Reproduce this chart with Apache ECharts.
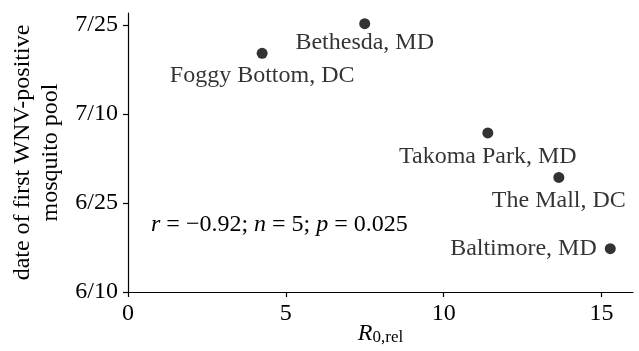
<!DOCTYPE html>
<html><head><meta charset="utf-8">
<script src="https://cdn.jsdelivr.net/npm/echarts@6/dist/echarts.min.js"></script>
<style>html,body{margin:0;padding:0;background:#fff}#c{width:639px;height:351px}</style>
</head><body><div id="c"></div>
<script>
// Data
const sites = ["Foggy Bottom, DC", "Bethesda, MD", "Takoma Park, MD", "The Mall, DC", "Baltimore, MD"];
const r0rel = [4.25, 7.5, 11.4, 13.65, 15.28];
// days after June 10
const firstPositiveDay = [40.2, 45.2, 26.8, 19.3, 7.3];
const yTickValues = [0, 15, 30, 45];
const yTickLabels = ["6/10", "6/25", "7/10", "7/25"];
const xTickValues = [0, 5, 10, 15];
const labelPos = ["bottom", "bottom", "bottom", "bottom", "left"];
const labelDist = [5, 2, 6, 6, 8];

const FONT = "Liberation Serif";
const chart = echarts.init(document.getElementById('c'), null, {renderer: 'canvas'});
const data = sites.map((s, i) => ({
  value: [r0rel[i], firstPositiveDay[i]],
  name: s,
  label: {show: true, position: labelPos[i], distance: labelDist[i], formatter: s}
}));
chart.setOption({
  animation: false,
  grid: {left: 128, right: 6, top: 13, bottom: 59, containLabel: false, outerBoundsMode: 'none'},
  xAxis: {
    type: 'value', min: 0, max: 16, interval: 5,
    axisLine: {show: true, onZero: false, lineStyle: {color: '#000', width: 1.2}},
    axisTick: {show: true, length: 5, lineStyle: {color: '#000', width: 1.2}, customValues: xTickValues},
    axisLabel: {color: '#000', fontFamily: FONT, fontSize: 24, margin: 10, customValues: xTickValues},
    splitLine: {show: false},
    name: '{r|R}{s|0,rel}',
    nameLocation: 'middle',
    nameGap: 30,
    nameMoveOverlap: false,
    nameTextStyle: {
      fontFamily: FONT, color: '#000',
      rich: {
        r: {fontFamily: FONT, fontSize: 24, fontStyle: 'italic', color: '#000', verticalAlign: 'top', lineHeight: 24},
        s: {fontFamily: FONT, fontSize: 17, color: '#000', verticalAlign: 'bottom', lineHeight: 17, padding: [12, 0, 0, 0]}
      }
    }
  },
  yAxis: {
    type: 'value', min: 0, max: 47, interval: 15,
    axisLine: {show: true, onZero: false, lineStyle: {color: '#000', width: 1.2}},
    axisTick: {show: true, length: 5, lineStyle: {color: '#000', width: 1.2}, customValues: yTickValues},
    axisLabel: {
      color: '#000', fontFamily: FONT, fontSize: 24, margin: 10, customValues: yTickValues,
      formatter: v => { const k = yTickValues.indexOf(v); return k >= 0 ? yTickLabels[k] : ''; }
    },
    splitLine: {show: false},
    name: 'date of first WNV-positive\nmosquito pool',
    nameLocation: 'middle',
    nameRotate: 90,
    nameGap: 62,
    nameTextStyle: {fontFamily: FONT, fontSize: 24, color: '#000', lineHeight: 28, align: 'center'}
  },
  graphic: [{
    type: 'text', left: 151, top: 213,
    style: {
      text: '{i|r} = \u22120.92; {i|n} = 5; {i|p} = 0.025',
      font: '24px "Liberation Serif"', fill: '#000',
      rich: {i: {fontFamily: FONT, fontSize: 24, fontStyle: 'italic', fill: '#000'}}
    }
  }],
  series: [{
    type: 'scatter',
    symbol: 'circle', symbolSize: 11,
    itemStyle: {color: '#000'},
    label: {color: '#000', fontFamily: FONT, fontSize: 24},
    data: data
  }]
});
</script></body></html>
